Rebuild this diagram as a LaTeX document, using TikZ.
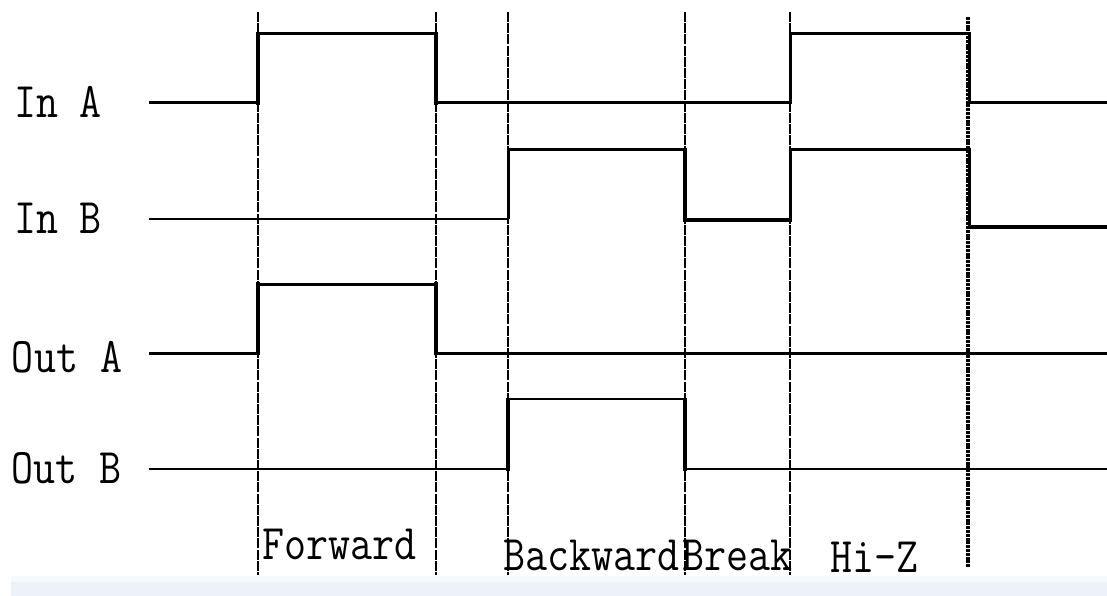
\documentclass[tikz,border=0pt]{standalone}
\usepackage{fontspec}
\usepackage{graphicx}
\definecolor{bandblue}{HTML}{EDF2F8}
\definecolor{bandfade}{HTML}{F7FAFD}
\newcommand{\lbl}[1]{\scalebox{1.03}[1.2]{\fontsize{41.5}{41.5}\selectfont\ttfamily #1}}
\tikzset{
  wave/.style={line width=3pt, line join=miter, line cap=butt},
  thinwave/.style={line width=2.3pt, line cap=butt},
  edge/.style={line width=4.5pt, line cap=butt},
  gridline/.style={line width=1.2pt, dash pattern=on 10pt off 1.2pt},
  heavygrid/.style={line width=4.5pt, dash pattern=on 3pt off 0.8pt},
  sig/.style={anchor=base west, inner sep=0pt, outer sep=0pt}
}
\begin{document}
\begin{tikzpicture}[x=1pt,y=-1pt]
\useasboundingbox (0,0) rectangle (1107,596);
\fill[white] (0,0) rectangle (1107,596);
% bottom band
\fill[bandfade] (11,576) rectangle (1107,582);
\fill[bandblue] (11,582) rectangle (1107,596);

% time grid
\coordinate (g1t) at (258,12);  \coordinate (g1b) at (258,575);
\coordinate (g2t) at (436,12);  \coordinate (g2b) at (436,575);
\coordinate (g3t) at (508,12);  \coordinate (g3b) at (508,575);
\coordinate (g4t) at (685,12);  \coordinate (g4b) at (685,575);
\coordinate (g5t) at (790,12);  \coordinate (g5b) at (790,575);
\coordinate (g6t) at (968,17);  \coordinate (g6b) at (968,567);
\draw[gridline] (g1t) -- (g1b);
\draw[gridline] (g2t) -- (g2b);
\draw[gridline] (g3t) -- (g3b);
\draw[gridline] (g4t) -- (g4b);
\draw[gridline] (g5t) -- (g5b);

% In A
\draw[wave] (149,103) -- (258,103) -- (258,34) -- (436,34) -- (436,103) -- (790,103) -- (790,34) -- (969,34) -- (969,103) -- (1107,103);
\draw[edge] (258,105) -- (258,32);
\draw[line width=4pt] (436,32) -- (436,105);
% In B
\draw[thinwave] (149,219) -- (508,219);
\draw[wave] (508,219) -- (508,150) -- (685,150) -- (685,220) -- (790,220) -- (790,150) -- (969,150) -- (969,227) -- (1107,227);
\draw[line width=4.5pt] (685,220) -- (790,220);
\draw[line width=4.5pt] (969,227) -- (1107,227);
\draw[line width=4pt] (685,148) -- (685,222);
% Out A
\draw[wave] (149,353) -- (258,353) -- (258,284) -- (436,284) -- (436,353) -- (1107,353);
\draw[edge] (258,355) -- (258,282);
\draw[edge] (436,282) -- (436,355);
% Out B
\draw[thinwave] (149,469) -- (508,469) -- (508,399) -- (685,399) -- (685,469) -- (1107,469);
\draw[line width=4pt] (508,471) -- (508,398);
\draw[edge] (685,398) -- (685,471);

\draw[heavygrid] (g6t) -- (g6b);

% labels
\node[sig] (inA)  at (14,118) {\lbl{In A}};
\node[sig] (inB)  at (14,233) {\lbl{In B}};
\node[sig] (outA) at (12,372) {\lbl{Out A}};
\node[sig] (outB) at (11,483) {\lbl{Out B}};
\node[sig] (fwd)  at (262,559) {\lbl{Forward}};
\node[sig] (bwd)  at (503,570) {\lbl{Backward}};
\node[sig] (brk)  at (682,570) {\lbl{Break}};
\node[sig] (hiz)  at (830,572) {\lbl{Hi-Z}};
\end{tikzpicture}
\end{document}
